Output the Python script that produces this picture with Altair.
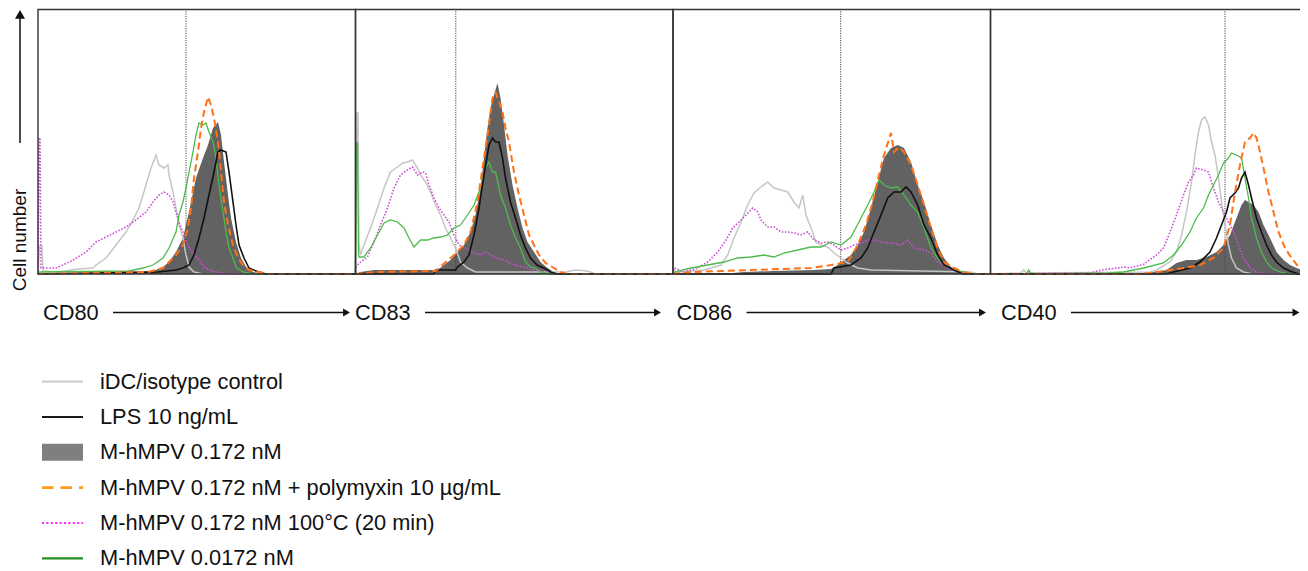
import altair as alt
import pandas as pd

# ---------------- data ----------------
PANELS = ["CD80", "CD83", "CD86", "CD40"]
PANEL_W = 317.5          # fluorescence channels shown per panel
TOP_COUNT = 264.5        # top of the count axis
GATES = [148, 100.3, 167.7, 234.5]   # dotted marker position (channel) per panel

SERIES = [
    "iDC/isotype control",
    "LPS 10 ng/mL",
    "M-hMPV 0.172 nM",
    "M-hMPV 0.172 nM + polymyxin 10 µg/mL",
    "M-hMPV 0.172 nM 100°C (20 min)",
    "M-hMPV 0.0172 nM",
]

# (channel, count) pairs
CD80_ISO = [(0,0),(1.5,28),(4,28),(5,3),(20,2),(40,5),(55,6),(58,9),(68,16),(78,29),(88,42),(95,54),(101,66),(108,89),(113,106),(118,119),(121,109),(126,106),(130,109),(131,99),(135,82),(138,66),(141,49),(145,36),(148,19),(151,7),(156,2),(165,0),(317.5,0)]
CD80_LPS = [(0,0),(120,2),(138,4),(145,6),(151,9),(156,19),(161,36),(166,56),(171,79),(176,102),(180,122),(183,124),(188,122),(191,102),(195,72),(198,49),(201,29),(206,16),(211,6),(218,3),(228,0),(317.5,0)]
CD80_MH = [(0,0),(115,3),(125,7),(131,12),(138,22),(145,36),(151,62),(158,96),(165,116),(170,129),(175,146),(180,152),(183,139),(186,112),(190,79),(193,56),(198,32),(203,16),(208,7),(215,2),(225,0),(317.5,0)]
CD80_POLY = [(0,0),(110,2),(125,6),(131,12),(138,19),(145,29),(150,46),(153,66),(156,96),(160,122),(163,146),(166,162),(170,177),(173,169),(176,156),(180,132),(183,102),(186,72),(190,49),(195,29),(200,16),(205,9),(211,4),(221,2),(230,0),(317.5,0)]
CD80_HEAT = [(0,0),(1,136),(2,136),(3,6),(18,6),(25,9),(35,14),(48,22),(58,32),(68,37),(78,42),(88,47),(98,54),(108,62),(115,72),(121,79),(126,82),(131,79),(135,72),(138,62),(141,52),(146,39),(151,26),(156,19),(161,14),(166,7),(171,4),(178,2),(190,0),(317.5,0)]
CD80_LOW = [(0,0),(1,2),(91,3),(105,6),(115,9),(125,16),(131,26),(138,42),(141,59),(145,72),(148,86),(151,102),(155,122),(158,139),(161,151),(165,149),(168,151),(171,142),(175,132),(178,116),(181,89),(185,62),(188,42),(191,26),(195,16),(198,7),(205,2),(215,0),(317.5,0)]

CD83_ISO = [(0,0),(1.5,161),(2.5,161),(3.5,30),(5,19),(8.5,29),(15,46),(22,66),(28.5,86),(35,102),(42,107),(47,111),(52,112),(57,114),(62,106),(65,99),(70,92),(75,82),(80,69),(85,59),(90,46),(95,36),(100,26),(105,12),(112,6),(120,2),(210,2),(220,4),(232,3),(240,0),(317.5,0)]
CD83_LPS = [(0,0),(78.5,0),(80,4),(100,4),(102,7),(108.5,12),(113.5,19),(118.5,39),(123.5,66),(128.5,99),(133.5,129),(137,136),(140,132),(143.5,132),(147,116),(150,96),(155,72),(160,56),(165,39),(170,26),(175,16),(181.5,9),(188.5,6),(195,2),(202,0),(317.5,0)]
CD83_MH = [(0,0),(5,2),(18.5,4),(82,4),(88.5,9),(95,14),(102,22),(108.5,29),(115,42),(120,59),(125,86),(128.5,116),(132,146),(135,166),(138.5,179),(142,191),(145,176),(148.5,149),(152,119),(157,89),(162,66),(167,46),(172,32),(178.5,22),(185,12),(192,6),(198.5,2),(205,0),(317.5,0)]
CD83_POLY = [(0,0),(20,2),(80,3),(98.5,19),(108.5,29),(115,42),(122,72),(127,106),(132,139),(137,176),(140,182),(143.5,172),(147,162),(150,146),(153.5,132),(158.5,102),(163.5,79),(168.5,59),(173.5,39),(178.5,29),(183.5,19),(190,11),(198.5,6),(205,2),(212,0),(317.5,0)]
CD83_HEAT = [(0,0),(1,8),(5,12),(12,17),(18.5,32),(25,49),(32,66),(38.5,86),(45,99),(52,104),(57,107),(62,99),(67,102),(70,101),(73.5,89),(78.5,76),(83.5,66),(88.5,59),(93.5,52),(98.5,39),(103.5,29),(110,26),(117,22),(123.5,19),(130,22),(138.5,17),(148.5,14),(158.5,9),(168.5,7),(178.5,4),(192,2),(200,0),(317.5,0)]
CD83_LOW = [(0,0),(1,131),(2,131),(3,20),(3.5,17),(8.5,17),(15,26),(22,39),(28.5,51),(35,54),(42,52),(48.5,46),(53.5,36),(58.5,27),(65,34),(72,34),(78.5,36),(85,37),(92,39),(98.5,46),(105,49),(112,59),(118.5,69),(125,86),(130,106),(133.5,112),(137,102),(140,102),(145,79),(150,66),(155,49),(160,36),(165,26),(170,12),(175,7),(180,6),(185,2),(195,0),(317.5,0)]

CD86_ISO = [(0,0),(4.7,2),(31,4),(48,9),(54.7,19),(61,36),(68,52),(74.7,69),(81,81),(88,87),(94.7,92),(101,86),(108,84),(114.7,82),(121,72),(126,66),(129.7,79),(133,59),(138,46),(143,32),(148,29),(154.7,27),(161,21),(168,16),(174.7,11),(184.7,6),(198,4),(298,2),(305,0),(317.5,0)]
CD86_LPS = [(0,0),(158,0),(161,6),(178,9),(188,16),(194.7,26),(201,42),(208,59),(214.7,76),(221,82),(228,82),(233,87),(238,82),(244.7,69),(251,49),(258,36),(264.7,19),(271,9),(281,4),(290,0),(317.5,0)]
CD86_MH = [(0,0),(60,1),(71,2),(100,3),(140,4),(158,5),(164.7,9),(171,14),(178,19),(184.7,29),(191,42),(198,66),(204.7,92),(211,116),(218,126),(224.7,129),(231,126),(238,112),(244.7,89),(251,72),(258,49),(264.7,29),(271,16),(278,7),(284.7,3),(292,0),(317.5,0)]
CD86_POLY = [(0,0),(20,2),(138,6),(158,9),(174.7,12),(184.7,29),(193,49),(199.7,72),(206,99),(211,119),(218,141),(221,122),(226,127),(231,122),(238,109),(244.7,89),(251,69),(258,46),(264.7,26),(271,12),(281,6),(291,2),(300,0),(317.5,0)]
CD86_HEAT = [(0,0),(1.3,6),(11,2),(24.7,6),(34.7,12),(44.7,22),(53,34),(59.7,46),(66,52),(73,59),(79.7,66),(84.7,62),(88,54),(94.7,47),(101,47),(108,42),(114.7,42),(121,41),(128,39),(134.7,42),(141,34),(148,31),(154.7,32),(161,29),(168,24),(174.7,26),(181,29),(188,31),(194.7,34),(201,34),(208,32),(218,31),(228,29),(234.7,34),(241,26),(251,24),(258,21),(264.7,12),(274.7,6),(284.7,2),(295,0),(317.5,0)]
CD86_LOW = [(0,0),(1.3,2),(18,6),(34.7,9),(51,12),(64.7,16),(78,17),(91,19),(101,17),(111,21),(124.7,24),(138,27),(148,27),(158,32),(168,29),(178,37),(188,56),(196.3,72),(201,82),(206,94),(211,89),(218,86),(224.7,87),(231,79),(238,69),(244.7,62),(251,46),(258,26),(264.7,16),(271,9),(281,4),(291,2),(300,0),(317.5,0)]

CD40_ISO = [(0,0),(30,1),(33,4),(36,1),(160,2),(166,4),(179.5,12),(186,22),(191,39),(196,62),(201,92),(204.5,119),(208,142),(211,154),(214.5,157),(218,149),(221,132),(224.5,119),(228,96),(231,72),(234.5,49),(238,29),(241,16),(246,6),(253,2),(262,0),(317.5,0)]
CD40_LPS = [(0,0),(175,0),(183,2),(199.5,6),(209.5,12),(219.5,22),(226,36),(231,49),(236,62),(239.5,76),(244.5,81),(248,86),(251,96),(254.5,102),(258,89),(261,76),(266,56),(271,42),(276,29),(281,19),(286,12),(293,6),(299.5,3),(308,0),(317.5,0)]
CD40_MH = [(0,0),(150,0),(176,4),(186,11),(196,14),(206,14),(216,17),(226,22),(233,29),(239.5,39),(246,56),(251,69),(254.5,74),(258,72),(263,69),(268,62),(273,49),(279.5,36),(286,22),(293,14),(299.5,9),(306,6),(317.5,2)]
CD40_POLY = [(0,0),(150,0),(166,2),(193,6),(209.5,9),(223,16),(233,26),(239.5,49),(244.5,82),(249.5,109),(254.5,132),(259.5,136),(263,141),(266,136),(269.5,122),(273,106),(278,82),(283,62),(288,42),(294.5,26),(301,16),(308,7),(314.5,2),(317.5,1)]
CD40_HEAT = [(0,0),(100,1),(111,4),(134.5,7),(139.5,6),(154.5,10),(156,12),(166,19),(173,26),(179.5,42),(186,59),(193,79),(198,92),(203,99),(206,106),(213,104),(218,102),(221,92),(224.5,82),(228,72),(233,62),(238,52),(243,42),(248,29),(253,16),(259.5,6),(266,2),(275,0),(317.5,0)]
CD40_LOW = [(0,0),(36,0),(38,4),(41,0),(120,1),(133,2),(153,6),(173,11),(183,19),(191,29),(199.5,42),(206,56),(213,66),(218,79),(223,89),(228,99),(233,111),(238,116),(241,121),(246,119),(251,116),(254.5,96),(258,76),(261,56),(266,36),(271,22),(276,12),(281,6),(289.5,2),(298,0),(317.5,0)]

HIST = {
    "CD80": [CD80_ISO, CD80_LPS, CD80_MH, CD80_POLY, CD80_HEAT, CD80_LOW],
    "CD83": [CD83_ISO, CD83_LPS, CD83_MH, CD83_POLY, CD83_HEAT, CD83_LOW],
    "CD86": [CD86_ISO, CD86_LPS, CD86_MH, CD86_POLY, CD86_HEAT, CD86_LOW],
    "CD40": [CD40_ISO, CD40_LPS, CD40_MH, CD40_POLY, CD40_HEAT, CD40_LOW],
}

# ---------------- build tables ----------------
rows = []
for k, p in enumerate(PANELS):
    for s, pts in zip(SERIES, HIST[p]):
        for ch, c in pts:
            rows.append({"panel": p, "series": s, "x": k * PANEL_W + ch, "count": c, "base": 0})
df = pd.DataFrame(rows)

panels_df = pd.DataFrame({
    "panel": PANELS,
    "x": [k * PANEL_W for k in range(4)],
    "x2": [(k + 1) * PANEL_W for k in range(4)],
    "y": 0,
    "y2": TOP_COUNT,
    "gate": [k * PANEL_W + g for k, g in enumerate(GATES)],
})

# layout of the marker labels under each panel
LABEL_OFF = [5, -0.5, 3.5, 10.5]
ARROW_END = [312, 305.5, 313, 309]
LABEL_Y = -38.5
lab_df = pd.DataFrame({
    "text": PANELS,
    "x": [k * PANEL_W + o for k, o in enumerate(LABEL_OFF)],
    "ax": [k * PANEL_W + o + 70 for k, o in enumerate(LABEL_OFF)],
    "ax2": [k * PANEL_W + e - 3.5 for k, e in enumerate(ARROW_END)],
    "y": LABEL_Y,
})

ylab_df = pd.DataFrame({"x": [-18.5], "y": [34], "text": ["Cell number"]})
yarrow_df = pd.DataFrame({"x": [-18], "y": [131], "y2": [256], "ytip": [259.7]})

FONT = "Liberation Sans"
VIEW_W = 1292   # the page leaves 1292 px: the last panel is cut at the right edge
xs = alt.Scale(domain=[-30, VIEW_W - 30], nice=False, zero=False)
ys = alt.Scale(domain=[-64, 266], nice=False, zero=False)
X = alt.X("x:Q", scale=xs, axis=None)
Y = alt.Y("count:Q", scale=ys, axis=None)

def series_df(name):
    return df[df["series"] == name]

area = alt.Chart(series_df(SERIES[2])).mark_area(
    color="#626262", interpolate="linear", clip=True
).encode(x=X, y=Y, y2="base:Q", detail="panel:N")

gates = alt.Chart(panels_df).mark_rule(
    color="#444444", strokeWidth=1, strokeDash=[1.2, 1.2]
).encode(x=alt.X("gate:Q", scale=xs, axis=None), y=alt.Y("y:Q", scale=ys, axis=None), y2="y2:Q")

def line(name, color, width, dash=None):
    kw = dict(color=color, strokeWidth=width, interpolate="linear", clip=True)
    if dash:
        kw["strokeDash"] = dash
    return alt.Chart(series_df(name)).mark_line(**kw).encode(x=X, y=Y, detail="panel:N")

iso = line(SERIES[0], "#c6c6c6", 1.5)
heat = line(SERIES[4], "#d04ed8", 1.6, [1.6, 1.6])
low = line(SERIES[5], "#4cbb4c", 1.3)
lps = line(SERIES[1], "#111111", 1.6)
poly = line(SERIES[3], "#ff7216", 2.0, [7, 4])

boxes = alt.Chart(panels_df).mark_rect(
    fillOpacity=0, stroke="#333333", strokeWidth=1.4, clip=True
).encode(x=alt.X("x:Q", scale=xs, axis=None), x2="x2:Q",
         y=alt.Y("y:Q", scale=ys, axis=None), y2="y2:Q")

labels = alt.Chart(lab_df).mark_text(
    align="left", baseline="middle", fontSize=21.8, font=FONT, color="#111111"
).encode(x=alt.X("x:Q", scale=xs, axis=None), y=alt.Y("y:Q", scale=ys, axis=None), text="text:N")

arrows = alt.Chart(lab_df).mark_rule(color="#111111", strokeWidth=1.5).encode(
    x=alt.X("ax:Q", scale=xs, axis=None), x2="ax2:Q", y=alt.Y("y:Q", scale=ys, axis=None))

heads = alt.Chart(lab_df).mark_point(
    shape="triangle-right", filled=True, size=64, color="#111111", opacity=1
).encode(x=alt.X("ax2:Q", scale=xs, axis=None), y=alt.Y("y:Q", scale=ys, axis=None))

ylab = alt.Chart(ylab_df).mark_text(
    angle=270, align="center", baseline="middle", fontSize=19, font=FONT, color="#111111"
).encode(x=alt.X("x:Q", scale=xs, axis=None), y=alt.Y("y:Q", scale=ys, axis=None), text="text:N")

yarrow = alt.Chart(yarrow_df).mark_rule(color="#111111", strokeWidth=1.5).encode(
    x=alt.X("x:Q", scale=xs, axis=None), y=alt.Y("y:Q", scale=ys, axis=None), y2="y2:Q")

yhead = alt.Chart(yarrow_df).mark_point(
    shape="triangle-up", filled=True, size=100, color="#111111", opacity=1
).encode(x=alt.X("x:Q", scale=xs, axis=None), y=alt.Y("ytip:Q", scale=ys, axis=None))

top = alt.layer(
    area, gates, iso, heat, low, lps, poly, boxes, labels, arrows, heads, ylab, yarrow, yhead
).properties(width=VIEW_W, height=330)

# ---------------- legend ----------------
leg_df = pd.DataFrame({"label": SERIES})
LY = alt.Y("label:N", sort=SERIES, axis=None, scale=alt.Scale(type="point", padding=0.5))

def leg_rule(name, color, width, dash=None, cap="butt"):
    kw = dict(color=color, strokeWidth=width, strokeCap=cap)
    if dash:
        kw["strokeDash"] = dash
    return alt.Chart(leg_df[leg_df["label"] == name]).mark_rule(**kw).encode(
        y=LY, x=alt.value(34), x2=alt.value(75))

leg_layers = [
    leg_rule(SERIES[0], "#cfcfcf", 2.2),
    leg_rule(SERIES[1], "#1a1a1a", 2.2),
    leg_rule(SERIES[2], "#7f7f7f", 17),
    leg_rule(SERIES[3], "#ff9a1a", 2.6, [11.5, 7]),
    leg_rule(SERIES[4], "#ff22ff", 2.0, [2, 2.4]),
    leg_rule(SERIES[5], "#1f8f1f", 2.2),
]
leg_text = alt.Chart(leg_df).mark_text(
    align="left", baseline="middle", fontSize=21.8, font=FONT, color="#111111"
).encode(y=LY, x=alt.value(92), text="label:N")

legend = alt.layer(*leg_layers, leg_text).properties(width=600, height=212)

chart = alt.vconcat(top, legend, spacing=26).properties(padding=0).configure_view(strokeWidth=0)

chart.save("out.html", embed_options={"renderer": "svg", "actions": False})
